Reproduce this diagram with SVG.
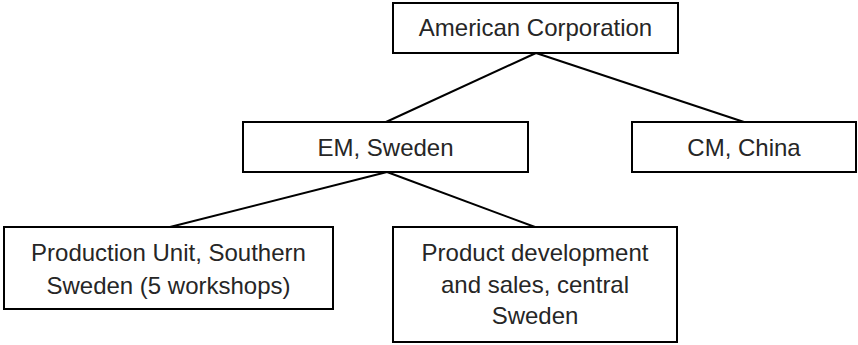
<svg xmlns="http://www.w3.org/2000/svg" width="858" height="345" viewBox="0 0 858 345">
<style>
.box{fill:#fff;stroke:#000;stroke-width:2}
.lbl{font-family:"Liberation Sans",Arial,sans-serif;font-size:24px;fill:#262626;text-anchor:middle}
.conn{stroke:#000;stroke-width:2;fill:none}
</style>
<rect width="858" height="345" fill="#fff"/>
<g id="connectors">
<line class="conn" x1="536" y1="53" x2="386" y2="122"/>
<line class="conn" x1="536" y1="53" x2="744" y2="122"/>
<line class="conn" x1="387" y1="172" x2="170" y2="227"/>
<line class="conn" x1="387" y1="172" x2="535" y2="227"/>
</g>
<g id="american">
<rect class="box" x="393" y="3" width="285" height="50"/>
<text class="lbl" x="535.5" y="36">American Corporation</text>
</g>
<g id="em">
<rect class="box" x="243" y="122" width="285" height="50"/>
<text class="lbl" x="385.5" y="156">EM, Sweden</text>
</g>
<g id="cm">
<rect class="box" x="632" y="122" width="224" height="50"/>
<text class="lbl" x="744" y="156">CM, China</text>
</g>
<g id="production">
<rect class="box" x="4" y="227" width="329" height="82"/>
<text class="lbl" x="168.5" y="261">Production Unit, Southern</text>
<text class="lbl" x="168.5" y="294">Sweden (5 workshops)</text>
</g>
<g id="productdev">
<rect class="box" x="393" y="227" width="284" height="115"/>
<text class="lbl" x="535" y="261">Product development</text>
<text class="lbl" x="535" y="293">and sales, central</text>
<text class="lbl" x="535" y="324">Sweden</text>
</g>
</svg>
